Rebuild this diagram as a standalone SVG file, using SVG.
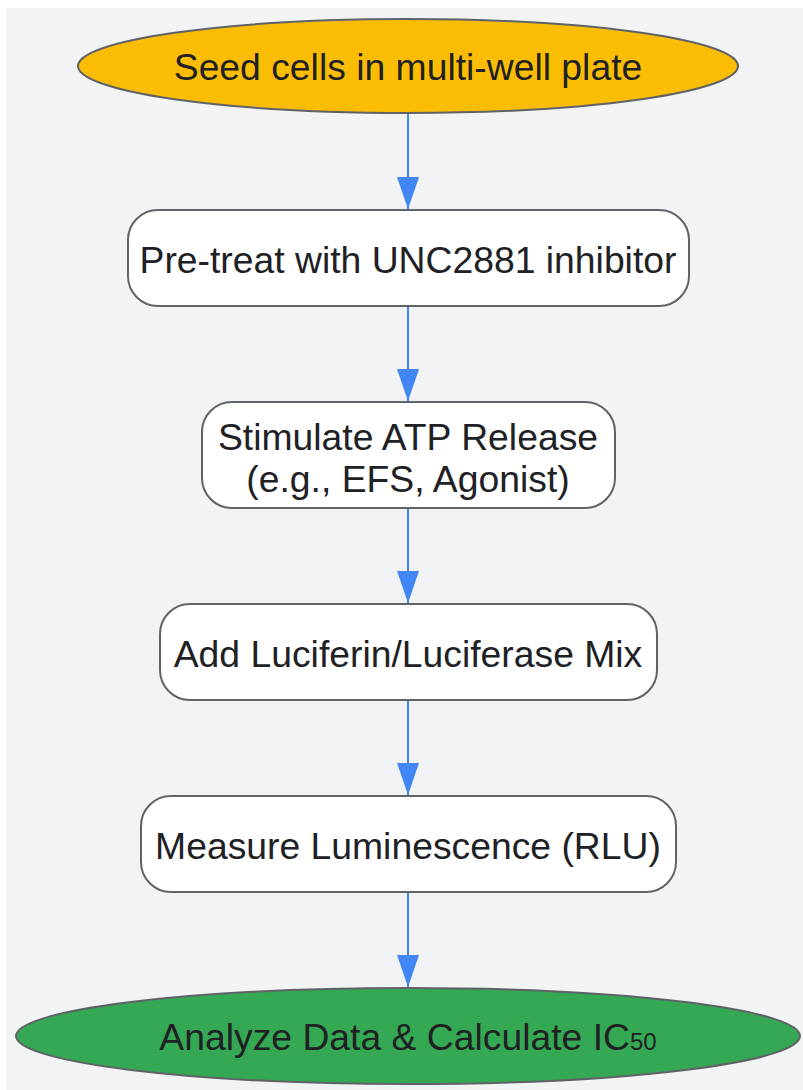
<svg xmlns="http://www.w3.org/2000/svg" width="803" height="1090" viewBox="0 0 803 1090">
<defs>
<style>
.node{stroke:#5f6368;stroke-width:2}
.box{fill:#ffffff}
.lbl{font-family:"Liberation Sans",Arial,sans-serif;font-size:37.3px;fill:#202124;text-anchor:middle}
.edge{stroke:#4285f4;stroke-width:2;fill:none}
</style>
<marker id="arr" viewBox="0 0 10 10" refX="10" refY="5" markerWidth="32" markerHeight="22" markerUnits="userSpaceOnUse" orient="auto" preserveAspectRatio="none">
<path d="M0,0 L10,5 L0,10 Z" fill="#4285f4"/>
</marker>
</defs>
<rect x="6" y="8" width="797" height="1082" fill="#f1f3f4"/>
<g id="connectors">
<line class="edge" x1="408" y1="114" x2="408" y2="209" marker-end="url(#arr)"/>
<line class="edge" x1="408" y1="307" x2="408" y2="401" marker-end="url(#arr)"/>
<line class="edge" x1="408" y1="509" x2="408" y2="603" marker-end="url(#arr)"/>
<line class="edge" x1="408" y1="701" x2="408" y2="795" marker-end="url(#arr)"/>
<line class="edge" x1="408" y1="893" x2="408" y2="987" marker-end="url(#arr)"/>
</g>
<g id="n1">
<ellipse class="node" cx="408" cy="66" rx="330" ry="47" fill="#fbbc04"/>
<text class="lbl" x="408" y="80">Seed cells in multi-well plate</text>
</g>
<g id="n2">
<rect class="node box" x="128" y="210" width="561" height="96" rx="30"/>
<text class="lbl" x="408" y="273">Pre-treat with UNC2881 inhibitor</text>
</g>
<g id="n3">
<rect class="node box" x="202" y="402" width="413" height="106" rx="30"/>
<text class="lbl" x="408" y="450">Stimulate ATP Release</text>
<text class="lbl" x="408" y="492">(e.g., EFS, Agonist)</text>
</g>
<g id="n4">
<rect class="node box" x="160" y="604" width="497" height="96" rx="30"/>
<text class="lbl" x="408" y="667">Add Luciferin/Luciferase Mix</text>
</g>
<g id="n5">
<rect class="node box" x="141" y="796" width="535" height="96" rx="30"/>
<text class="lbl" x="408" y="859">Measure Luminescence (RLU)</text>
</g>
<g id="n6">
<ellipse class="node" cx="408" cy="1036" rx="392" ry="48" fill="#34a853"/>
<text class="lbl" x="408" y="1050">Analyze Data &amp; Calculate IC<tspan font-size="24">50</tspan></text>
</g>
</svg>
